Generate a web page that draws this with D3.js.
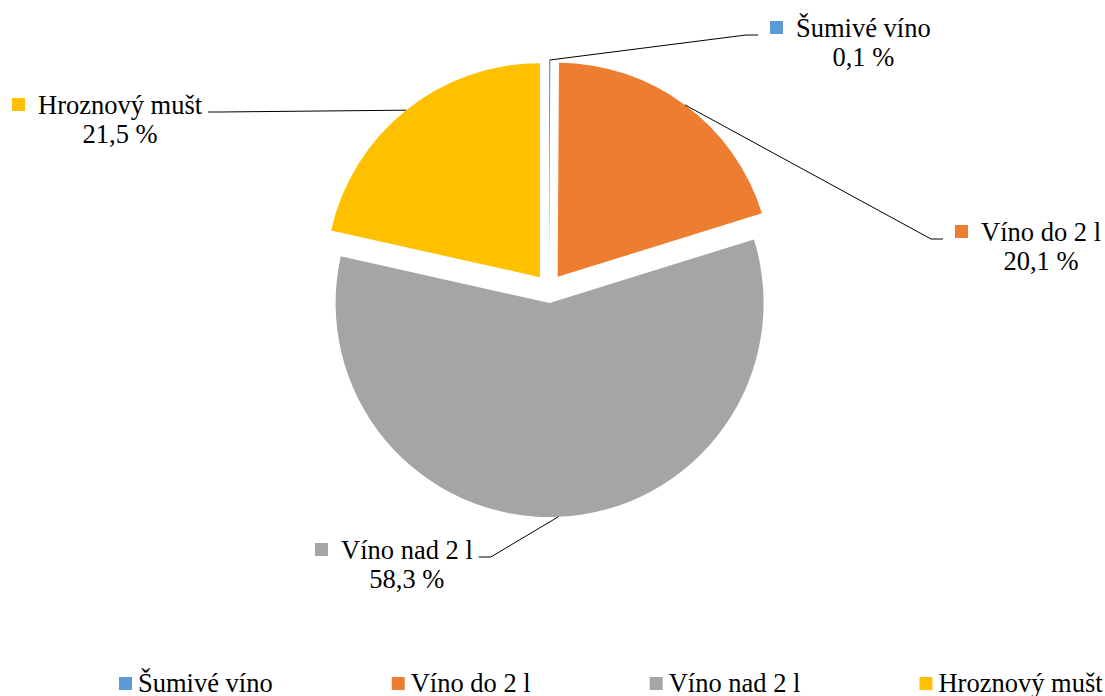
<!DOCTYPE html>
<html><head><meta charset="utf-8">
<script src="https://cdn.jsdelivr.net/npm/d3@7"></script>
</head><body style="margin:0">
<svg id="s" width="1105" height="696"></svg>
<script>
// ---- data ----
const categories = ["Šumivé víno", "Víno do 2 l", "Víno nad 2 l", "Hroznový mušt"];
const values = [0.1, 20.1, 58.3, 21.5];
const valueLabels = ["0,1 %", "20,1 %", "58,3 %", "21,5 %"];
const colors = ["#5B9BD5", "#ED7D31", "#A5A5A5", "#FFC000"];

// ---- layout ----
const cx = 549, cy = 288.5, R = 214, explode = 14.5;
const fontSize = "26.5px";
const fontFamily = '"Times New Roman", "Tinos", "Liberation Serif", serif';
const labelPos = [
  { x: 770, y: 37, side: "right" },
  { x: 955, y: 241, side: "right" },
  { x: 315, y: 559, side: "left" },
  { x: 12,  y: 114, side: "left" }
];

const svg = d3.select("#s")
  .attr("font-family", fontFamily)
  .style("font-family", fontFamily);
const color = d3.scaleOrdinal().domain(categories).range(colors);

function txt(parent, x, y, s) {
  return parent.append("text").attr("x", x).attr("y", y)
    .attr("font-family", fontFamily)
    .style("font-family", fontFamily).style("font-size", fontSize)
    .text(s);
}

const pie = d3.pie().sort(null).value(d => d.value);
const data = categories.map((c, i) => ({ name: c, value: values[i], label: valueLabels[i] }));
const arcs = pie(data);
const arc = d3.arc().innerRadius(0).outerRadius(R);

arcs.forEach(a => {
  const mid = (a.startAngle + a.endAngle) / 2;
  a.mid = mid;
  a.ox = Math.sin(mid) * explode;
  a.oy = -Math.cos(mid) * explode;
});

const g = svg.append("g").attr("transform", `translate(${cx},${cy})`);
g.selectAll("path")
  .data(arcs)
  .join("path")
  .attr("transform", d => `translate(${d.ox},${d.oy})`)
  .attr("d", arc)
  .attr("fill", d => color(d.data.name));

arcs.forEach((a, i) => {
  const p = labelPos[i];
  svg.append("rect")
    .attr("x", p.x).attr("y", p.y - 16)
    .attr("width", 13).attr("height", 13)
    .attr("fill", color(a.data.name));
  const t1 = txt(svg, p.x + 26, p.y, a.data.name);
  const tw = t1.node().getComputedTextLength();
  txt(svg, p.x + 26 + tw / 2, p.y + 29, a.data.label).attr("text-anchor", "middle");

  const sx = cx + a.ox + Math.sin(a.mid) * R;
  const sy = cy + a.oy - Math.cos(a.mid) * R;
  const ey = p.y - 2;
  let ex, elx;
  if (p.side === "right") { ex = p.x - 12; elx = ex - 12; }
  else { ex = p.x + 26 + tw + 6; elx = ex + 12; }
  svg.append("path")
    .attr("d", d3.line()([[sx, sy], [elx, ey], [ex, ey]]))
    .attr("fill", "none")
    .attr("stroke", "#000")
    .attr("stroke-width", 1);
});

let lx = 119;
categories.forEach((c) => {
  svg.append("rect")
    .attr("x", lx).attr("y", 677)
    .attr("width", 13).attr("height", 13)
    .attr("fill", color(c));
  const t = txt(svg, lx + 19, 692, c);
  lx += 19 + t.node().getComputedTextLength() + 119;
});
</script></body></html>
